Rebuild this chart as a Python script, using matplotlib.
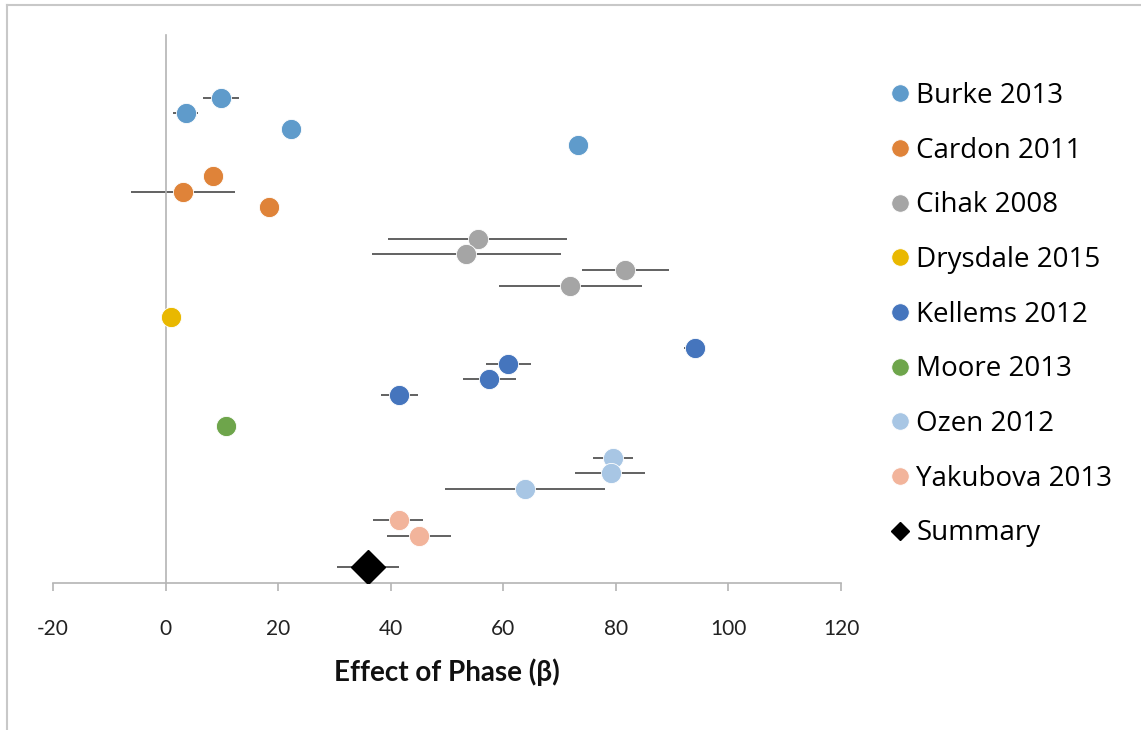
import numpy as np
import matplotlib.pyplot as plt
from matplotlib.lines import Line2D

# Исследования и их оценки (beta) с доверительными интервалами
studies = ['Burke 2013', 'Cardon 2011', 'Cihak 2008', 'Drysdale 2015',
           'Kellems 2012', 'Moore 2013', 'Ozen 2012', 'Yakubova 2013']

burke_est = [9.8, 3.6, 22.3, 73.2]
burke_lo = [6.6, 1.4, 22.3, 73.2]
burke_hi = [13.1, 5.8, 22.3, 73.2]

cardon_est = [8.5, 3.1, 18.3]
cardon_lo = [8.5, -6.1, 18.3]
cardon_hi = [8.5, 12.3, 18.3]

cihak_est = [55.5, 53.4, 81.7, 71.9]
cihak_lo = [39.5, 36.7, 74.0, 59.2]
cihak_hi = [71.4, 70.2, 89.5, 84.6]

drysdale_est = [1.0]
drysdale_lo = [1.0]
drysdale_hi = [1.0]

kellems_est = [94.0, 60.9, 57.5, 41.5]
kellems_lo = [92.1, 57.0, 52.8, 38.2]
kellems_hi = [95.9, 65.0, 62.2, 44.8]

moore_est = [10.7]
moore_lo = [10.7]
moore_hi = [10.7]

ozen_est = [79.5, 79.1, 63.8]
ozen_lo = [75.9, 72.8, 49.6]
ozen_hi = [83.0, 85.2, 78.0]

yakubova_est = [41.4, 45.0]
yakubova_lo = [36.9, 39.4]
yakubova_hi = [45.8, 50.7]

summary_est = [36.0]
summary_lo = [30.4]
summary_hi = [41.5]

x_ticks = [-20, 0, 20, 40, 60, 80, 100, 120]

colors = ['#5f9bcb', '#df8339', '#a5a5a5', '#e9b800',
          '#4575bd', '#6ea54b', '#a8c6e4', '#f2b49b']


def main():
    plt.rcParams['font.family'] = ['Lato', 'DejaVu Sans']
    plt.rcParams['axes.unicode_minus'] = False

    groups = [
        (burke_est, burke_lo, burke_hi),
        (cardon_est, cardon_lo, cardon_hi),
        (cihak_est, cihak_lo, cihak_hi),
        (drysdale_est, drysdale_lo, drysdale_hi),
        (kellems_est, kellems_lo, kellems_hi),
        (moore_est, moore_lo, moore_hi),
        (ozen_est, ozen_lo, ozen_hi),
        (yakubova_est, yakubova_lo, yakubova_hi),
    ]

    fig = plt.figure(figsize=(11.41, 7.30), dpi=100)
    ax = fig.add_axes([53 / 1141, 147 / 730, 788 / 1141, 548 / 730])

    # Строки сверху вниз, с пропуском одной строки между исследованиями
    top_row = 1 + sum(len(g[0]) + 1 for g in groups)
    row = top_row
    handles = []
    for (est, lo, hi), name, col in zip(groups, studies, colors):
        est = np.array(est)
        ys = row - np.arange(len(est))
        ax.hlines(ys, lo, hi, color='#555555', lw=1.3, zorder=2)
        ax.plot(est, ys, 'o', ms=14.5, color=col, mec='white', mew=0.6, zorder=3)
        handles.append(Line2D([], [], ls='none', marker='o', ms=12.5, color=col,
                              mec='white', mew=0.5, label=name))
        row -= len(est) + 1

    ys = row - np.arange(len(summary_est))
    ax.hlines(ys, summary_lo, summary_hi, color='#555555', lw=1.3, zorder=2)
    ax.plot(summary_est, ys, 'D', ms=17.5, color='black', zorder=3)
    handles.append(Line2D([], [], ls='none', marker='D', ms=9, color='black',
                          label='Summary'))

    ax.set_xlim(-20, 120)
    ax.set_ylim(0, top_row + 4)
    ax.set_xticks(x_ticks)
    ax.set_yticks([])

    axis_col = '#b4b4b4'
    for s in ['top', 'right']:
        ax.spines[s].set_visible(False)
    ax.spines['left'].set_position(('data', 0))
    ax.spines['left'].set_color(axis_col)
    ax.spines['left'].set_linewidth(1.2)
    ax.spines['bottom'].set_color(axis_col)
    ax.spines['bottom'].set_linewidth(1.2)
    ax.tick_params(axis='x', direction='out', length=6, width=1.2, color=axis_col,
                   labelsize=15, labelcolor='#222222', pad=20)
    ax.set_xlabel('Effect of Phase (β)', fontsize=20, fontweight='bold',
                  color='#111111', labelpad=14)

    fig.legend(handles=handles, loc='upper left', bbox_to_anchor=(890 / 1141, 1 - 82 / 730),
               frameon=False, prop={'family': 'Open Sans', 'size': 20},
               labelspacing=0.96, handlelength=0.7, handletextpad=0.25,
               borderaxespad=0, borderpad=0)

    # Рамка вокруг области диаграммы
    fig.add_artist(Line2D([7 / 1141, 7 / 1141], [0, 1 - 5 / 730], color='#c8c8c8', lw=1.5))
    fig.add_artist(Line2D([7 / 1141, 1], [1 - 5 / 730, 1 - 5 / 730], color='#c8c8c8', lw=1.5))

    fig.savefig('out.png', dpi=100)


if __name__ == "__main__":
    main()
